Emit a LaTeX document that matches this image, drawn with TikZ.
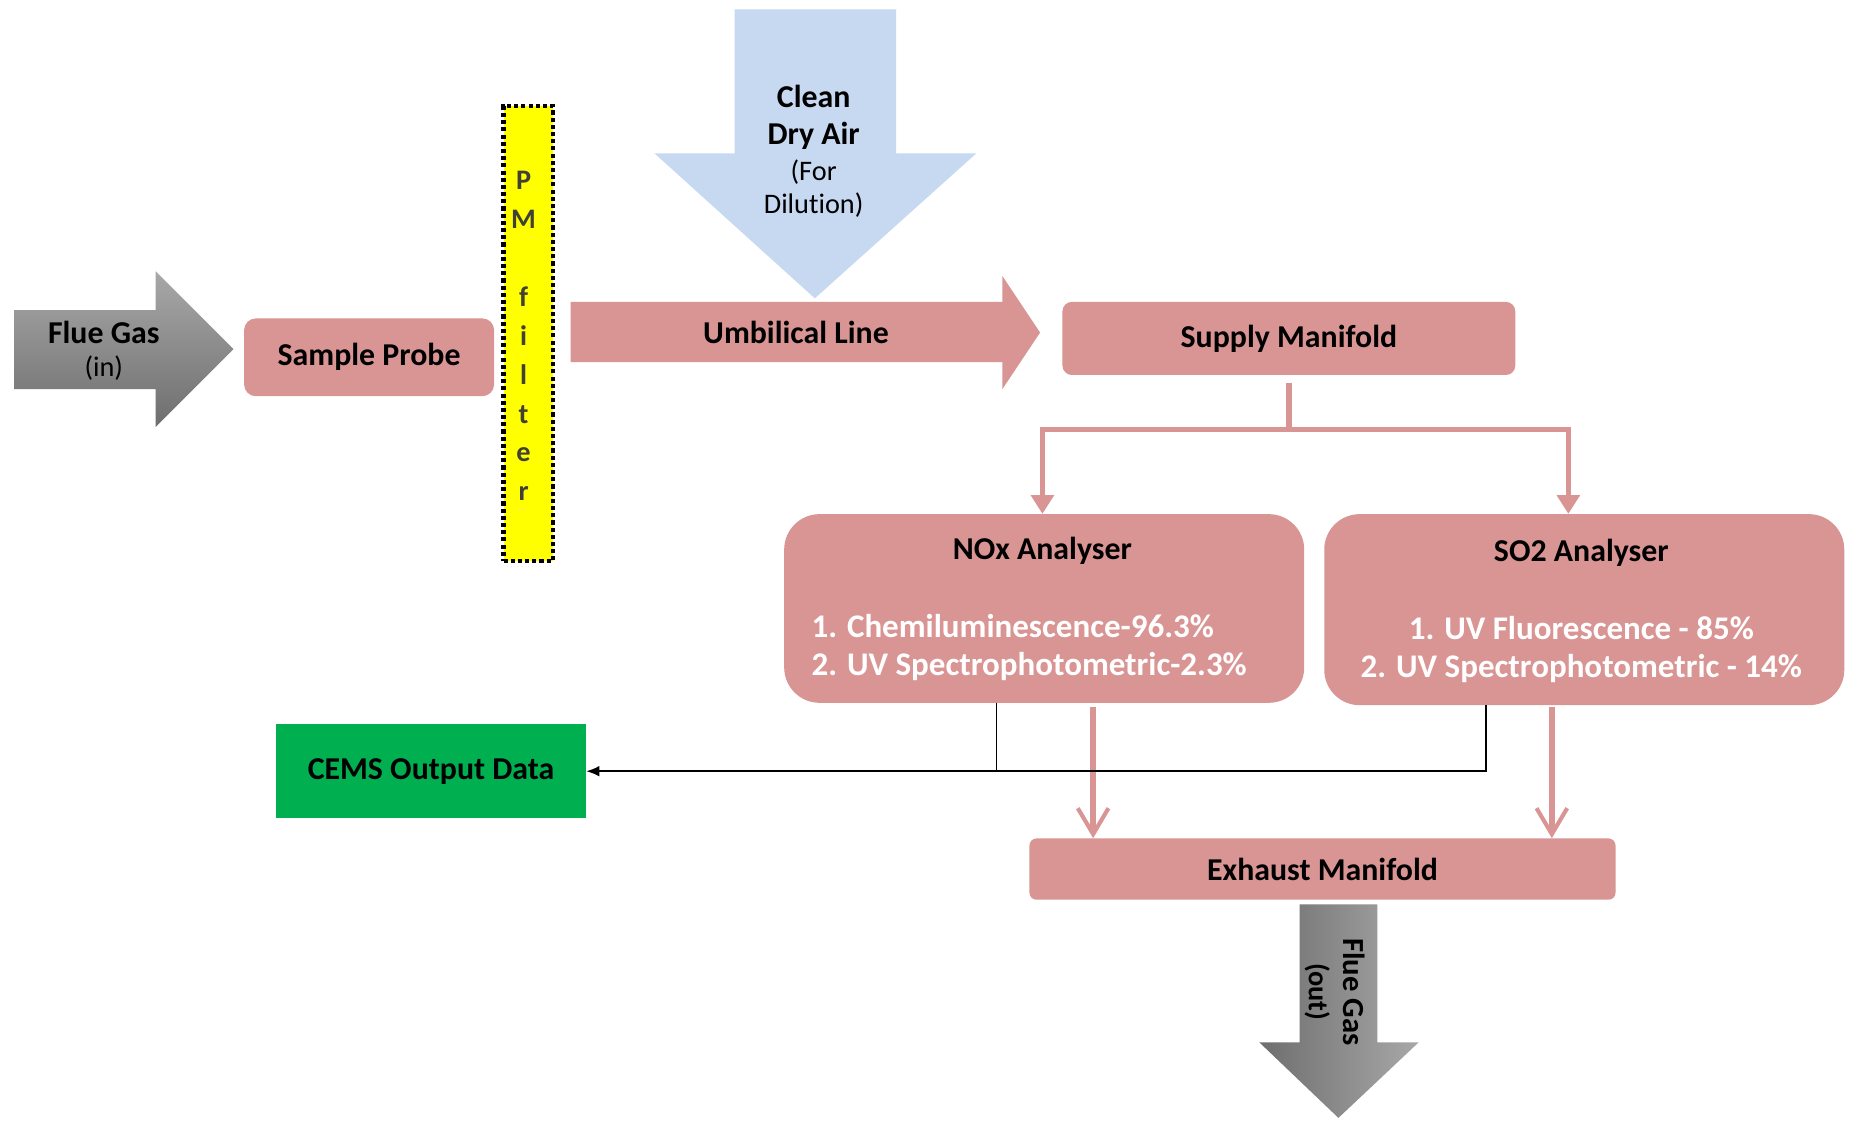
\documentclass[tikz,border=0pt]{standalone}
\usepackage{fontspec}
\setmainfont[Ligatures=NoCommon]{Carlito}
\usetikzlibrary{arrows.meta}
\definecolor{pinkbox}{HTML}{D99594}
\definecolor{airblue}{HTML}{C6D9F1}
\definecolor{cemsgreen}{HTML}{00B050}
\definecolor{filteryellow}{HTML}{FFFF00}
\definecolor{filtertext}{HTML}{404035}
\definecolor{gasdark}{HTML}{6E6E6E}
\definecolor{gaslight}{HTML}{A8A8A8}
\begin{document}
\begin{tikzpicture}[x=1pt,y=-1pt,
  boldtxt/.style={font=\fontsize{27}{32}\selectfont\bfseries, inner sep=0pt},
  regtxt/.style={font=\fontsize{24}{28}\selectfont, inner sep=0pt},
  listtxt/.style={font=\fontsize{28}{33}\selectfont\bfseries, text=white, inner sep=0pt},
  pbox/.style={fill=pinkbox, draw=none, inner sep=0pt},
  pinkline/.style={draw=pinkbox, line width=4.5pt},
  pinkbranch/.style={pinkline, -{Triangle[length=16pt,width=19pt]}},
  pinkdown/.style={pinkline, -{Straight Barb[length=22pt,width=26pt,line width=3.5pt]}},
  dataline/.style={draw=black, line width=1.4pt}
]
\useasboundingbox (0,0) rectangle (1568,950);
\fill[white] (0,0) rectangle (1568,950);

% Flue gas in arrow
\shade[top color=gaslight, bottom color=gasdark]
  (12,263) -- (132,263) -- (132,230) -- (198,296) -- (132,362) -- (132,330) -- (12,330) -- cycle;
\node[boldtxt] (fgin1) at (88,282) {Flue Gas};
\node[regtxt] (fgin2) at (88,312) {(in)};

% Sample probe
\node[pbox, rounded corners=10pt, minimum width=212pt, minimum height=66pt, boldtxt] (probe) at (313,303) {Sample Probe};

% PM filter
\node[draw=black, fill=filteryellow, line width=3.5pt, dash pattern=on 3.5pt off 2.6pt,
      minimum width=42pt, minimum height=386pt, inner sep=0pt] (filter) at (448,283) {};
\node[font=\fontsize{24}{33}\selectfont\bfseries, text=filtertext, align=center, inner sep=0pt]
  (filtertxt) at (444,285) {P\\M\\\strut\\f\\i\\l\\t\\e\\r};

% Clean dry air arrow
\fill[airblue] (623,8) -- (760,8) -- (760,130) -- (828,130) -- (691,253) -- (555,130) -- (623,130) -- cycle;
\node[boldtxt] (air1) at (690,82) {Clean};
\node[boldtxt] (air2) at (690,115) {Dry Air};
\node[regtxt] (air3) at (690,146) {(For};
\node[regtxt] (air4) at (690,174) {Dilution)};

% Umbilical line arrow
\fill[pinkbox] (484,256) -- (850,256) -- (850,234) -- (882,282) -- (850,330) -- (850,307) -- (484,307) -- cycle;
\node[boldtxt] (umb) at (675,282) {Umbilical Line};

% Supply manifold
\node[pbox, rounded corners=8pt, minimum width=384pt, minimum height=62pt, boldtxt] (supply) at (1093,287) {Supply Manifold};

% Analysers
\node[pbox, rounded corners=30pt, minimum width=441pt, minimum height=160pt] (nox) at (885.5,516) {};
\node[boldtxt] (noxtitle) at (884,467) {NOx Analyser};
\node[listtxt, anchor=west] (nox1) at (688,531) {1. Chemiluminescence-96.3\%};
\node[listtxt, anchor=west] (nox2) at (688,565) {2. UV Spectrophotometric-2.3\%};

\node[pbox, rounded corners=30pt, minimum width=441pt, minimum height=162pt] (so2) at (1343.5,517) {};
\node[boldtxt] (so2title) at (1341,469) {SO2 Analyser};
\node[listtxt] (so21) at (1341,533) {1. UV Fluorescence - 85\%};
\node[listtxt] (so22) at (1341,567) {2. UV Spectrophotometric - 14\%};

% CEMS output
\node[fill=cemsgreen, minimum width=263pt, minimum height=80pt, boldtxt] (cems) at (365.5,654) {CEMS Output Data};

% Exhaust manifold
\node[pbox, rounded corners=6pt, minimum width=497pt, minimum height=52pt, boldtxt] (exhaust) at (1121.5,737) {Exhaust Manifold};

% Flue gas out arrow
\shade[left color=gasdark, right color=gaslight]
  (1102,767) -- (1168,767) -- (1168,884) -- (1203,884) -- (1135,948) -- (1068,884) -- (1102,884) -- cycle;
\node[boldtxt, font=\fontsize{26}{30}\selectfont\bfseries, rotate=-90] (fgout1) at (1148,841) {Flue Gas};
\node[boldtxt, font=\fontsize{24}{28}\selectfont\bfseries, rotate=-90] (fgout2) at (1117,841) {(out)};

% Supply branch connectors
\coordinate (branch) at (1093,364);
\draw[pinkline] ([yshift=-7pt]supply.south) -- (branch);
\draw[pinkbranch] (branch) -| ([xshift=-1.5pt]nox.north);
\draw[pinkbranch] (branch) -| ([xshift=-13.5pt]so2.north);

% Analysers to exhaust
\draw[pinkdown] ([xshift=41.5pt,yshift=-3pt]nox.south) -- ([xshift=41.5pt]nox.south |- exhaust.north);
\draw[pinkdown] ([xshift=-27.5pt,yshift=-1pt]so2.south) -- ([xshift=-27.5pt]so2.south |- exhaust.north);

% Data lines
\coordinate (join) at (845,654);
\draw[dataline] ([xshift=-40.5pt]nox.south) -- (join);
\draw[dataline, -{Latex[length=11pt,width=9pt]}] ([xshift=-83.5pt]so2.south) |- (cems.east);
\end{tikzpicture}
\end{document}
